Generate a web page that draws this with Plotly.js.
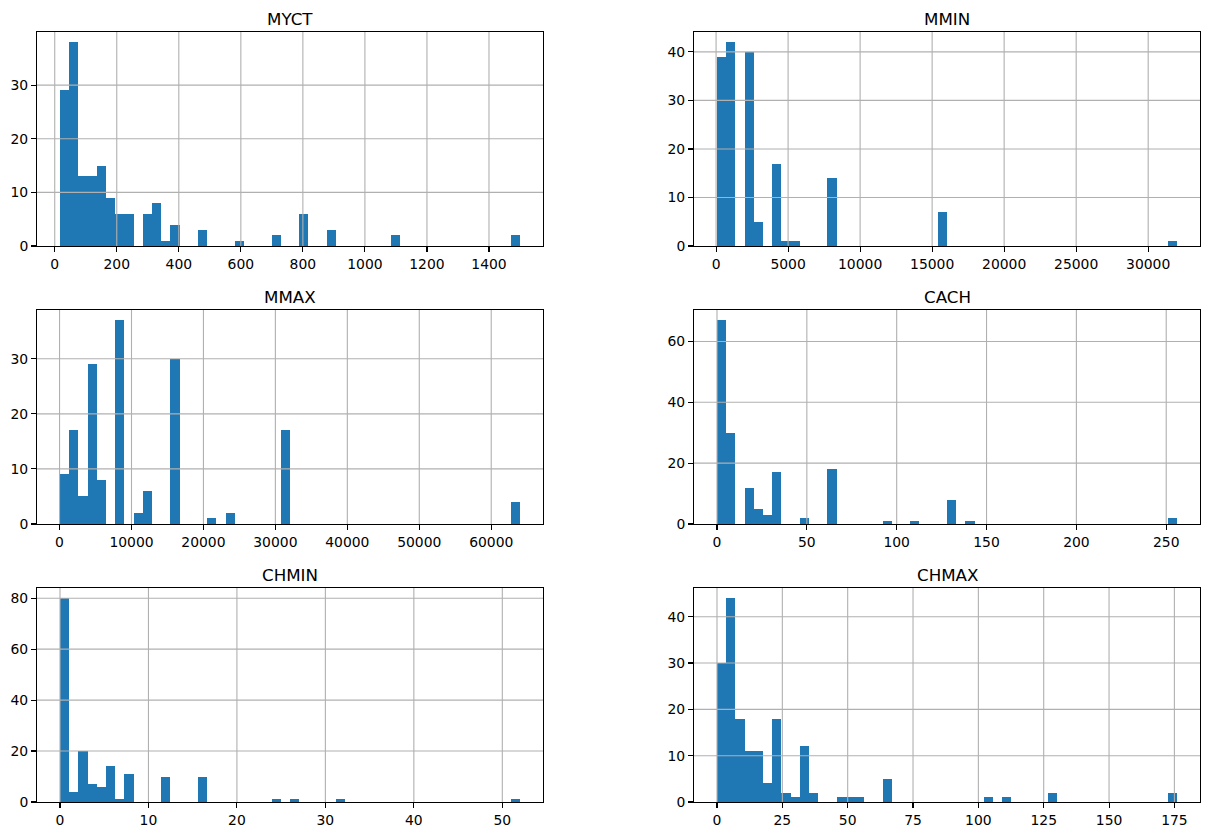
<!DOCTYPE html>
<html>
<head>
<meta charset="utf-8">
<script src="https://cdn.plot.ly/plotly-3.0.1.min.js"></script>
<style>html,body{margin:0;padding:0;background:#fff}#chart{width:1209px;height:836px}</style>
</head>
<body>
<div id="chart"></div>
<script>
// Column names (subplot titles), in reading order
const columns = ["MYCT", "MMIN", "MMAX", "CACH", "CHMIN", "CHMAX"];
// Data min / max per column (histogram range, 50 bins)
const colMin = [17, 64, 64, 0, 0, 0];
const colMax = [1500, 32000, 64000, 256, 52, 176];
const nBins = 50;

// Bin counts (50 bins each)
const countsMYCT = [29,38,13,13,15,9,6,6,0,6, 8,1,4,0,0,3,0,0,0,1, 0,0,0,2,0,0,6,0,0,3, 0,0,0,0,0,0,2,0,0,0, 0,0,0,0,0,0,0,0,0,2];
const countsMMIN = [39,42,0,40,5,0,17,1,1,0, 0,0,14,0,0,0,0,0,0,0, 0,0,0,0,7,0,0,0,0,0, 0,0,0,0,0,0,0,0,0,0, 0,0,0,0,0,0,0,0,0,1];
const countsMMAX = [9,17,5,29,8,0,37,0,2,6, 0,0,30,0,0,0,1,0,2,0, 0,0,0,0,17,0,0,0,0,0, 0,0,0,0,0,0,0,0,0,0, 0,0,0,0,0,0,0,0,0,4];
const countsCACH = [67,30,0,12,5,3,17,0,0,2, 0,0,18,0,0,0,0,0,1,0, 0,1,0,0,0,8,0,1,0,0, 0,0,0,0,0,0,0,0,0,0, 0,0,0,0,0,0,0,0,0,2];
const countsCHMIN = [80,4,20,7,6,14,1,11,0,0, 0,10,0,0,0,10,0,0,0,0, 0,0,0,1,0,1,0,0,0,0, 1,0,0,0,0,0,0,0,0,0, 0,0,0,0,0,0,0,0,0,1];
const countsCHMAX = [30,44,18,11,11,4,18,2,1,12, 2,0,0,1,1,1,0,0,5,0, 0,0,0,0,0,0,0,0,0,1, 0,1,0,0,0,0,2,0,0,0, 0,0,0,0,0,0,0,0,0,2];

// Tick spacing per subplot
const xTickStep = [200, 5000, 10000, 50, 10, 25];
const yTickStep = [10, 10, 10, 20, 20, 10];

const allCounts = [countsMYCT, countsMMIN, countsMMAX, countsCACH, countsCHMIN, countsCHMAX];

const W = 1209, H = 836;
// axes boxes in pixels: columns and rows
const colX = [[37, 543], [694, 1200]];
const rowY = [[32, 246], [310, 524], [588, 802]];

const BLUE = '#1f77b4';
const GRID = '#b0b0b0';
const FONT = 'DejaVu Sans, sans-serif';

const traces = [];
const layout = {
  width: W, height: H,
  margin: {l: 0, r: 0, t: 0, b: 0, pad: 0},
  paper_bgcolor: '#ffffff',
  plot_bgcolor: '#ffffff',
  showlegend: false,
  bargap: 0,
  font: {family: FONT, size: 13.9, color: '#000'},
  annotations: [],
  shapes: []
};

function ticksIn(lo, hi, step) {
  const out = [];
  let t = Math.ceil(lo / step) * step;
  for (; t <= hi + 1e-9; t += step) out.push(t);
  return out;
}

columns.forEach((name, k) => {
  const r = Math.floor(k / 2), c = k % 2;
  const idx = k + 1;
  const xa = 'x' + (idx === 1 ? '' : idx), ya = 'y' + (idx === 1 ? '' : idx);
  const xk = 'xaxis' + (idx === 1 ? '' : idx), yk = 'yaxis' + (idx === 1 ? '' : idx);
  const lo = colMin[k], hi = colMax[k];
  const w = (hi - lo) / nBins;
  const counts = allCounts[k];
  const centers = counts.map((_, i) => lo + (i + 0.5) * w);
  traces.push({
    type: 'bar', x: centers, y: counts, width: w,
    xaxis: xa, yaxis: ya,
    marker: {color: BLUE, line: {width: 0}},
    hoverinfo: 'x+y'
  });
  const pad = (hi - lo) * 0.05;
  const xr = [lo - pad, hi + pad];
  const ymax = Math.max(...counts) * 1.05;
  const yr = [0, ymax];
  const axCommon = {
    showgrid: false, zeroline: false,
    showline: true, linecolor: '#000', linewidth: 1.1, mirror: true,
    ticks: 'outside', ticklen: 4.9, tickwidth: 1.1, tickcolor: '#000',
    tickfont: {family: FONT, size: 13.9, color: '#000'},
    tickformat: 'd',
    layer: 'above traces', fixedrange: true
  };
  layout[xk] = Object.assign({}, axCommon, {
    anchor: ya, domain: [colX[c][0] / W, colX[c][1] / W],
    range: xr, tick0: 0, dtick: xTickStep[k]
  });
  layout[yk] = Object.assign({}, axCommon, {
    anchor: xa, domain: [1 - rowY[r][1] / H, 1 - rowY[r][0] / H],
    range: yr, tick0: 0, dtick: yTickStep[k]
  });
  // gridlines drawn above bars, as in the reference
  ticksIn(xr[0], xr[1], xTickStep[k]).forEach(t => {
    layout.shapes.push({type: 'line', layer: 'above', xref: xa, yref: ya + ' domain',
      x0: t, x1: t, y0: 0, y1: 1, line: {color: GRID, width: 1.1}});
  });
  ticksIn(yr[0], yr[1], yTickStep[k]).forEach(t => {
    if (t === 0) return;
    layout.shapes.push({type: 'line', layer: 'above', xref: xa + ' domain', yref: ya,
      x0: 0, x1: 1, y0: t, y1: t, line: {color: GRID, width: 1.1}});
  });
  layout.annotations.push({
    text: name, xref: xa + ' domain', yref: ya + ' domain', x: 0.5, y: 1,
    xanchor: 'center', yanchor: 'bottom', yshift: 1, showarrow: false,
    font: {family: FONT, size: 16.7, color: '#000'}
  });
});

Plotly.newPlot('chart', traces, layout, {displayModeBar: false, staticPlot: true});
</script>
</body>
</html>
